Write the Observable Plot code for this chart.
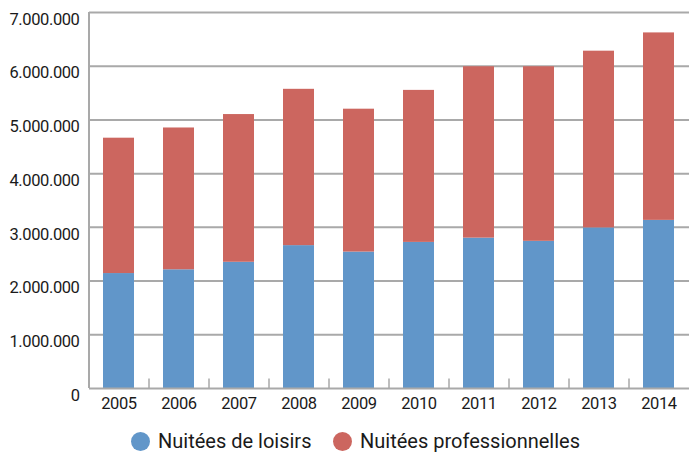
<!DOCTYPE html>
<html>
<head>
<meta charset="utf-8">
<script src="https://cdn.jsdelivr.net/npm/d3@7"></script>
<script src="https://cdn.jsdelivr.net/npm/@observablehq/plot@0.6"></script>
<style>
  html, body { margin: 0; padding: 0; background: #fff; }
  #wrap { position: relative; width: 689px; height: 453px; font-family: "Roboto", sans-serif; color: #1a1a1a; }
  #legend { position: absolute; left: 0; top: 426px; width: 689px; height: 30px; }
  .item { position: absolute; top: 0; display: flex; align-items: center; height: 30px; font-size: 20px; }
  .dot { width: 19px; height: 19px; border-radius: 50%; margin-right: 8px; }
</style>
</head>
<body>
<div id="wrap"></div>
<script>
const years = ["2005","2006","2007","2008","2009","2010","2011","2012","2013","2014"];
const loisirs = [2140000, 2210000, 2350000, 2660000, 2540000, 2720000, 2800000, 2740000, 2990000, 3130000];
const professionnelles = [2520000, 2640000, 2750000, 2910000, 2660000, 2830000, 3190000, 3250000, 3290000, 3490000];
const seriesNames = ["Nuitées de loisirs", "Nuitées professionnelles"];
const seriesColors = ["#6196c9", "#cc665f"];
const yTicks = [0, 1000000, 2000000, 3000000, 4000000, 5000000, 6000000, 7000000];
const yTickLabels = ["0", "1.000.000", "2.000.000", "3.000.000", "4.000.000", "5.000.000", "6.000.000", "7.000.000"];

const rows = [];
years.forEach((y, i) => {
  rows.push({year: y, series: seriesNames[0], value: loisirs[i]});
  rows.push({year: y, series: seriesNames[1], value: professionnelles[i]});
});

const width = 689, marginLeft = 89, marginRight = 0;
const step = (width - marginLeft - marginRight) / years.length;

const chart = Plot.plot({
  width,
  height: 420,
  marginTop: 12,
  marginBottom: 32,
  marginLeft,
  marginRight,
  style: {fontFamily: '"Roboto", sans-serif', fontSize: "16.5px", color: "#1a1a1a", background: "#fff", letterSpacing: "-0.4px"},
  x: {domain: years, paddingInner: 0.48, paddingOuter: 0.24, label: null},
  y: {domain: [0, 7000000], label: null},
  color: {domain: seriesNames, range: seriesColors},
  marks: [
    Plot.gridY(yTicks.slice(1), {stroke: "#a9a9a9", strokeOpacity: 1, strokeWidth: 2}),
    Plot.barY(rows, {x: "year", y: "value", fill: "series", order: seriesNames}),
    Plot.ruleY([0], {stroke: "#a9a9a9", strokeWidth: 2}),
    Plot.ruleX([years[0]], {y1: 0, y2: 7000000, stroke: "#a9a9a9", strokeWidth: 2, dx: -step / 2}),
    Plot.ruleX(years.slice(1), {y1: 0, y2: 175000, stroke: "#a9a9a9", strokeWidth: 1.5, dx: -step / 2}),
    Plot.axisY(yTicks, {tickSize: 0, tickPadding: 10, tickFormat: (d) => yTickLabels[yTicks.indexOf(d)], dy: 7, fill: "#1a1a1a"}),
    Plot.axisX(years, {tickSize: 0, tickPadding: 9, fill: "#1a1a1a"})
  ]
});

const wrap = document.getElementById("wrap");
wrap.appendChild(chart);
const legend = document.createElement("div");
legend.id = "legend";
const lefts = [131, 333];
seriesNames.forEach((name, i) => {
  const it = document.createElement("div");
  it.className = "item";
  it.style.left = lefts[i] + "px";
  const dot = document.createElement("span");
  dot.className = "dot";
  dot.style.background = seriesColors[i];
  const t = document.createElement("span");
  t.textContent = name;
  it.appendChild(dot);
  it.appendChild(t);
  legend.appendChild(it);
});
wrap.appendChild(legend);
</script>
</body>
</html>
